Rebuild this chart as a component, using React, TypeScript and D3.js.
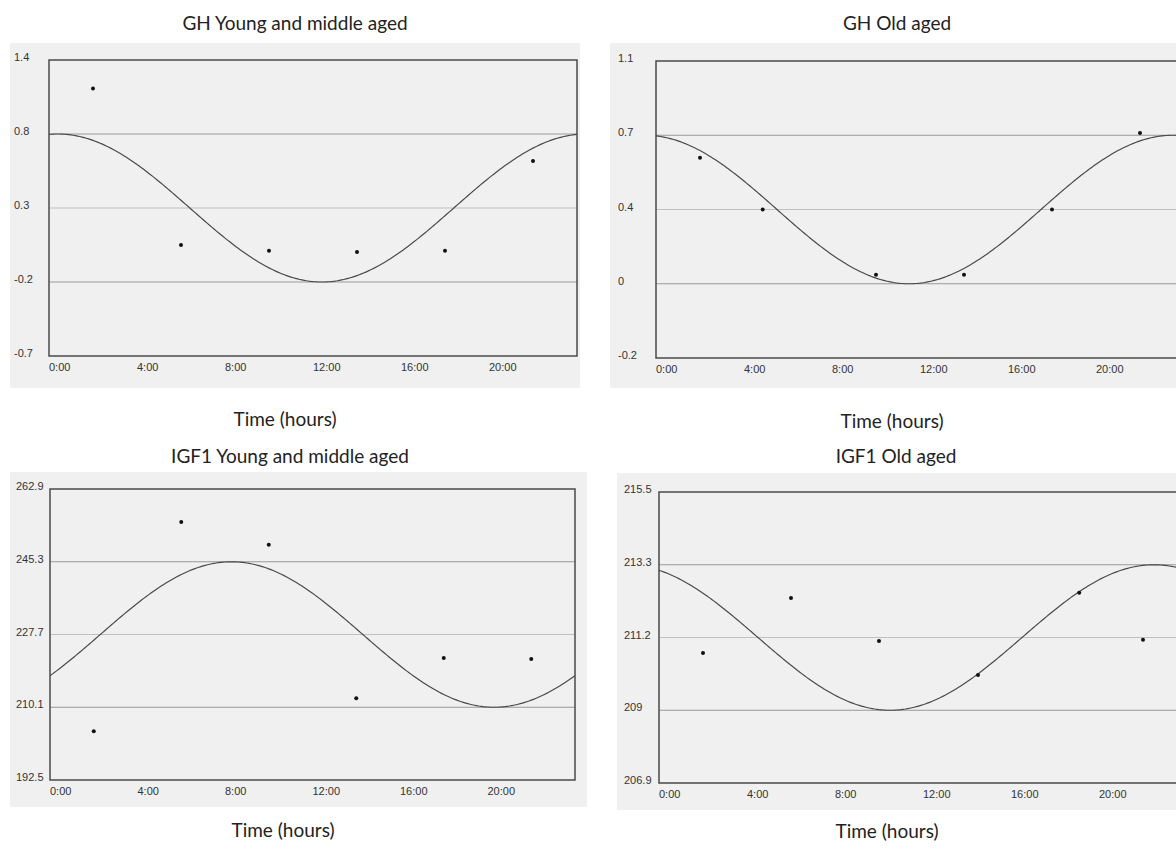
import * as d3 from "d3";

// panel order: GH young, GH old, IGF1 young, IGF1 old
const titles = ["GH Young and middle aged", "GH Old aged", "IGF1 Young and middle aged", "IGF1 Old aged"];
const xLabel = "Time (hours)";
const xTicks = [0, 4, 8, 12, 16, 20];

const yTickLabels = [
  ["-0.7", "-0.2", "0.3", "0.8", "1.4"],
  ["-0.2", "0", "0.4", "0.7", "1.1"],
  ["192.5", "210.1", "227.7", "245.3", "262.9"],
  ["206.9", "209", "211.2", "213.3", "215.5"],
];

// cosinor fit (acrophase in hours)
const mesors = [0.32, 0.37, 227.7, 211.2];
const amplitudes = [0.52, 0.33, 17.6, 2.15];
const acrophases = [0.4, 23.5, 8.3, 22.5];

const ghYoungHours = [2, 6, 10, 14, 18, 22];
const ghYoungValues = [1.16, 0.06, 0.02, 0.01, 0.02, 0.65];
const ghOldHours = [2, 4.85, 10, 14, 18, 22];
const ghOldValues = [0.6, 0.37, 0.08, 0.08, 0.37, 0.71];
const igfYoungHours = [2, 6, 10, 14, 18, 22];
const igfYoungValues = [204.3, 254.9, 249.4, 212.3, 222.0, 221.8];
const igfOldHours = [2, 6, 10, 14.5, 19.1, 22];
const igfOldValues = [210.74, 212.37, 211.1, 210.09, 212.52, 211.13];

const hoursList = [ghYoungHours, ghOldHours, igfYoungHours, igfOldHours];
const valuesList = [ghYoungValues, ghOldValues, igfYoungValues, igfOldValues];

const layout = [
  { bg: [10, 43, 570, 345], frame: [49, 60, 528, 296], labelX: 14, title: [295, 22], xl: [285, 418] },
  { bg: [610, 43, 580, 345], frame: [656, 61, 528, 297], labelX: 618, title: [897, 22], xl: [892, 420] },
  { bg: [10, 472, 577, 335], frame: [50, 489, 525, 291], labelX: 16, title: [290, 455], xl: [283, 829] },
  { bg: [617, 473, 570, 337], frame: [659, 492, 528, 291], labelX: 624, title: [896, 455], xl: [887, 830] },
];

const tickFont = "'Liberation Sans', Arial, sans-serif";
const titleFont = "Lato, 'Open Sans', sans-serif";

function Panel({ i }: { i: number }) {
  const { bg, frame, labelX, title, xl } = layout[i];
  const [fx, fy, fw, fh] = frame;
  const m = mesors[i];
  const a = amplitudes[i];
  const phi = acrophases[i];
  const x = d3.scaleLinear([0, 24], [fx, fx + fw]);
  const y = d3.scaleLinear([m - 2 * a, m + 2 * a], [fy + fh, fy]);
  const yTicks = [-2, -1, 0, 1, 2].map((k) => m + k * a);
  const fit = (h: number) => m + a * Math.cos((2 * Math.PI * (h - phi)) / 24);
  const line = d3.line<number>((h) => x(h), (h) => y(fit(h)));
  const hs = d3.range(0, 24.05, 0.1);
  const clipId = `clip${i}`;

  return (
    <g>
      <rect x={bg[0]} y={bg[1]} width={bg[2]} height={bg[3]} fill="#f0f0f0" />
      <defs>
        <clipPath id={clipId}>
          <rect x={fx} y={fy} width={fw} height={fh} />
        </clipPath>
      </defs>
      {yTicks.slice(1, 4).map((t, k) => (
        <line key={k} x1={fx} x2={fx + fw} y1={y(t)} y2={y(t)}
          stroke={k === 1 ? "#c0c0c0" : "#999"} strokeWidth={1.2} />
      ))}
      <path d={line(hs) ?? ""} fill="none" stroke="#4a4a4a" strokeWidth={1.2} clipPath={`url(#${clipId})`} />
      {hoursList[i].map((h, k) => (
        <circle key={k} cx={x(h)} cy={y(valuesList[i][k])} r={2} fill="#111" />
      ))}
      <rect x={fx} y={fy} width={fw} height={fh} fill="none" stroke="#4a4a4a" strokeWidth={1.5} />
      {yTicks.map((t, k) => (
        <text key={k} x={labelX} y={y(t) + 1} fontSize={11} fill="#333" fontFamily={tickFont}>
          {yTickLabels[i][k]}
        </text>
      ))}
      {xTicks.map((h) => (
        <text key={h} x={x(h)} y={fy + fh + 15} fontSize={11} fill="#333" fontFamily={tickFont}>
          {`${h}:00`}
        </text>
      ))}
      <text x={title[0]} y={title[1]} textAnchor="middle" dominantBaseline="central"
        fontSize={19} fill="#222" fontFamily={titleFont}>
        {titles[i]}
      </text>
      <text x={xl[0]} y={xl[1]} textAnchor="middle" dominantBaseline="central"
        fontSize={19} fill="#222" fontFamily={titleFont}>
        {xLabel}
      </text>
    </g>
  );
}

export default function App() {
  return (
    <div style={{ position: "absolute", left: 0, top: 0 }}>
      <svg width={1176} height={855} style={{ display: "block", background: "#fff" }}>
        {[0, 1, 2, 3].map((i) => (
          <Panel key={i} i={i} />
        ))}
      </svg>
    </div>
  );
}
